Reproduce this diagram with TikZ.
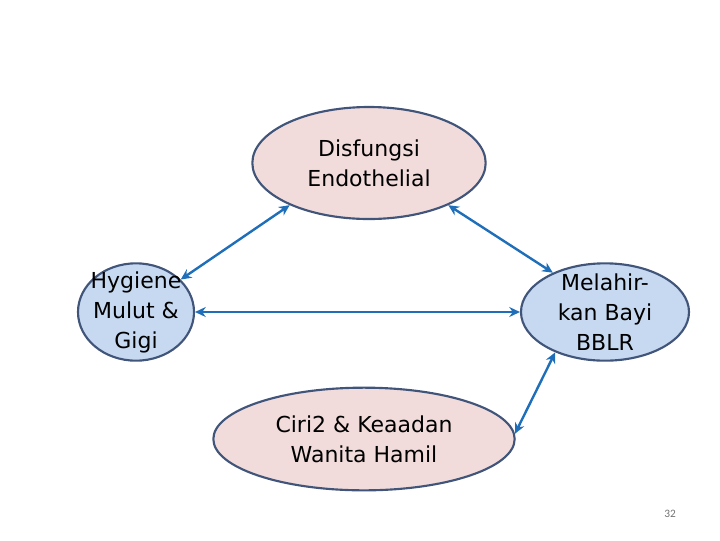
\documentclass[tikz,border=0pt]{standalone}
\usepackage{fontspec}
\setmainfont{DejaVu Sans}
\newfontfamily\numfont{Carlito}
\usepackage{xcolor}
\usetikzlibrary{arrows.meta,shapes.geometric}

\definecolor{pinkfill}{RGB}{242,220,219}
\definecolor{bluefill}{RGB}{198,217,241}
\definecolor{rimcol}{RGB}{65,85,122}
\definecolor{linkcol}{RGB}{31,110,185}

\begin{document}
\begin{tikzpicture}[
  x=0.75pt, y=-0.75pt,
  >={Stealth[length=8pt,width=7.5pt]},
  every node/.style={font=\fontsize{16.5}{22.5}\selectfont},
  oval/.style={ellipse, draw=rimcol, line width=1.6pt, inner sep=-5.5pt, align=center},
  pinkoval/.style={oval, fill=pinkfill},
  blueoval/.style={oval, fill=bluefill},
  link/.style={<->, draw=linkcol, line width=1.8pt},
]
  \useasboundingbox (0,0) rectangle (720,540);
  \node[pinkoval, minimum width=175pt, minimum height=84pt] (disf) at (369,163) {Disfungsi\\Endothelial};
  \node[blueoval, minimum width=87pt, minimum height=73pt]  (hyg)  at (136,312) {Hygiene\\Mulut \&\\Gigi};
  \node[blueoval, minimum width=126pt, minimum height=73pt] (bblr) at (605,312) {Melahir-\\kan Bayi\\BBLR};
  \node[pinkoval, minimum width=226pt, minimum height=77pt] (ciri) at (364,439) {Ciri2 \& Keaadan\\Wanita Hamil};
  \draw[link] (disf.208) -- (hyg.36);
  \draw[link] (disf.-28) -- (bblr.143);
  \draw[link] (hyg.east) -- (bblr.west);
  \draw[link] (bblr.219) -- (ciri.2);
  \node[font=\numfont\fontsize{8.5}{10}\selectfont, text=black!55] (pnum) at (670,514) {32};
\end{tikzpicture}
\end{document}
